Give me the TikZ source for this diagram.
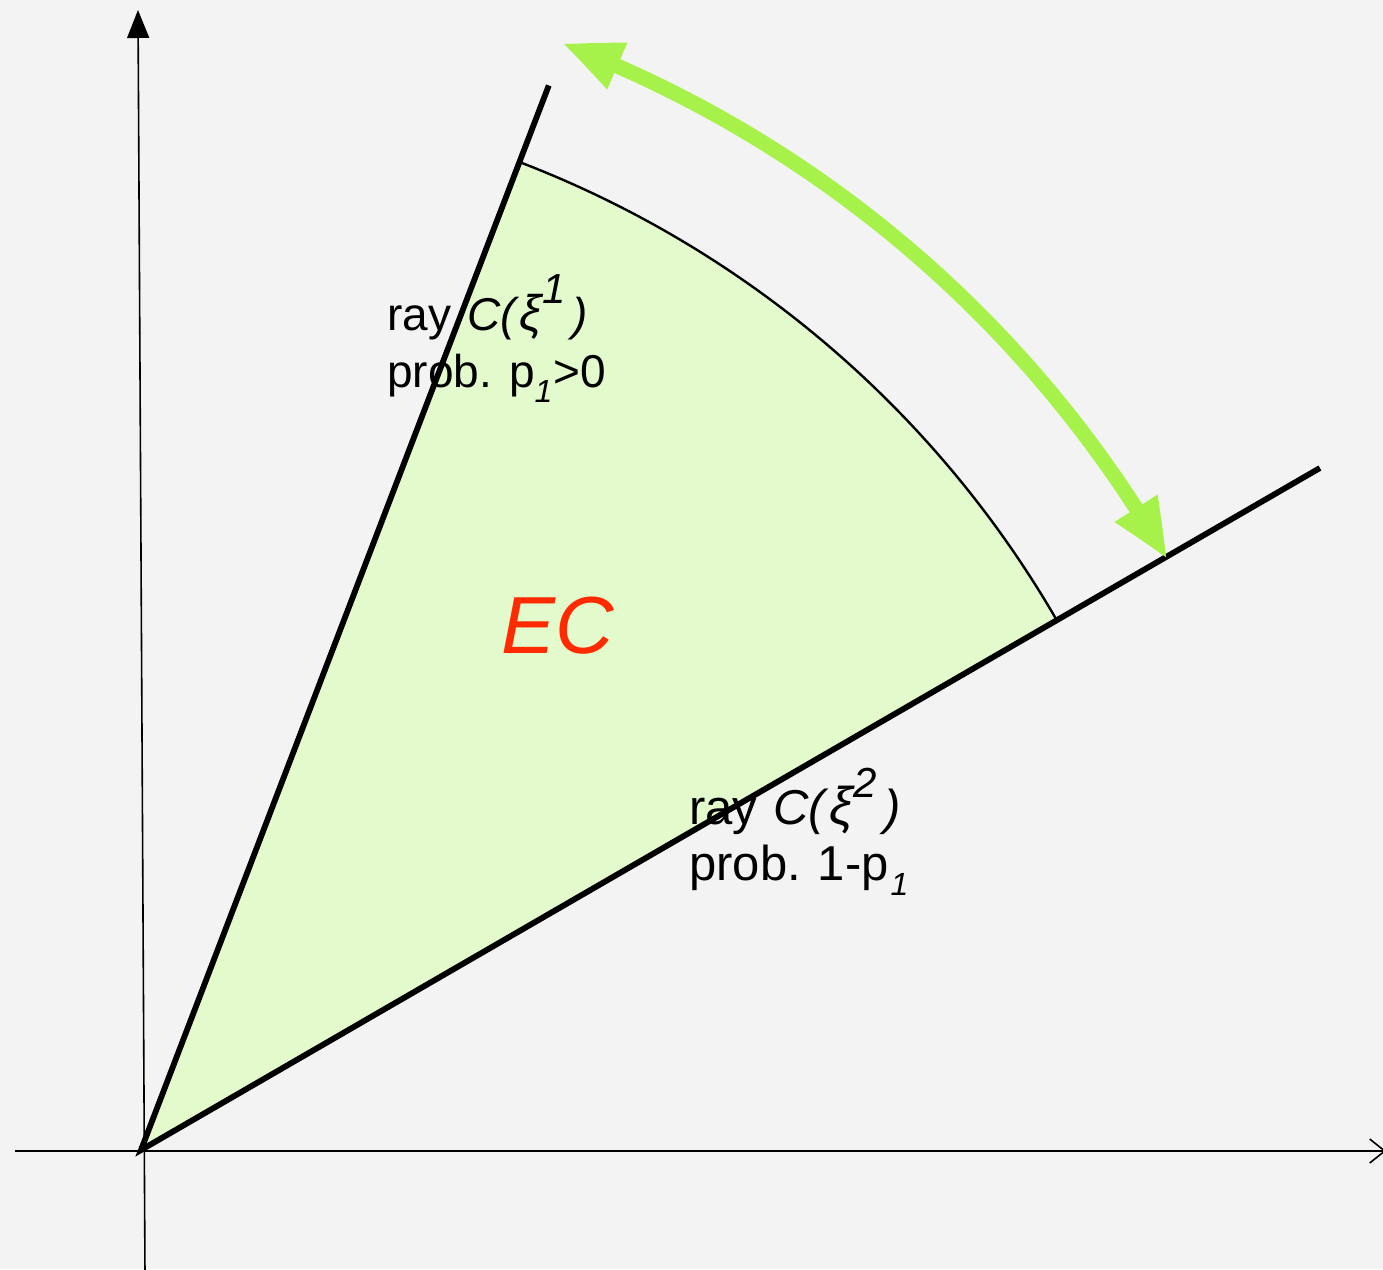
\documentclass[tikz,border=0pt]{standalone}
\usepackage{fontspec}
\setmainfont{Liberation Sans}
\usetikzlibrary{arrows.meta,bending,calc}
\definecolor{bgc}{RGB}{243,243,243}
\definecolor{conefill}{RGB}{227,250,204}
\definecolor{arrgreen}{RGB}{166,242,74}
\definecolor{ecred}{RGB}{255,42,0}
\newcommand\mysupx[1]{\raisebox{27pt}{\fontsize{42}{42}\selectfont\itshape #1}}
\newcommand\mysubx[1]{\raisebox{-15pt}{\fontsize{32}{32}\selectfont\itshape #1}}
\begin{document}
\begin{tikzpicture}[x=1pt,y=-1pt,
  lbl/.style={anchor=base west, inner sep=0pt, font=\fontsize{46}{52}\selectfont},
  lblb/.style={anchor=base west, inner sep=0pt, font=\fontsize{49}{54}\selectfont},
  axisline/.style={line width=1.6pt, black},
  rayline/.style={line width=5.8pt, black},
  greenarrow/.style={arrgreen, line width=15pt,
     {Triangle[length=60pt,width=46pt,bend]}-{Triangle[length=60pt,width=46pt,bend]}}]
\fill[bgc] (0,0) rectangle (1383,1269);
\useasboundingbox (0,0) rectangle (1383,1269);
\coordinate (O) at (141,1150);
\coordinate (R1) at ($(O)+(-69.04:1140)$);
\coordinate (R2) at ($(O)+(-30.05:1362)$);
\coordinate (A1) at ($(O)+(-69.04:1058)$);
\coordinate (G1) at ($(O)+(-69.18:1184)$);
% cone fill
\fill[conefill] (O) -- (A1) arc[start angle=-69.04, end angle=-30.05, radius=1058] -- cycle;
% axes
\coordinate (yb) at (145,1275);
\coordinate (yt) at (138,10);
\coordinate (xl) at (15,1151);
\coordinate (xr) at (1386,1151);
\draw[axisline, -{Triangle[length=28pt,width=22pt]}] (yb) -- (yt);
\draw[axisline, -{Straight Barb[length=15pt,width=24pt,line width=1.6pt]}] (xl) -- (xr);
% arc
\draw[line width=2.4pt] (A1) arc[start angle=-69.04, end angle=-30.05, radius=1058];
% rays
\draw[rayline] (R1) -- (O) -- (R2);
% labels
\node[lbl] (l1a) at (387,330) {ray\kern16pt\textit{C(}{\fontsize{50}{50}\selectfont\itshape ξ}\kern1pt\mysupx{1}\kern6pt\textit{)}};
\node[lbl] (l1b) at (387,387) {prob. p\mysubx{1}\kern1pt>0};
\node[lblb] (l2a) at (689,824) {ray\kern16pt\textit{C(}{\fontsize{53}{53}\selectfont\itshape ξ}\kern1pt\mysupx{2}\kern7pt\textit{)}};
\node[lblb] (l2b) at (689,880) {prob.\kern17pt1-p\kern2pt\mysubx{1}};
\node[anchor=base west, inner sep=0pt, text=ecred, font=\fontsize{81}{90}\selectfont\itshape] (ec) at (501,653) {EC};
% green double arrow
\draw[greenarrow] (G1) arc[start angle=-69.18, end angle=-29.92, radius=1184];
\end{tikzpicture}
\end{document}
